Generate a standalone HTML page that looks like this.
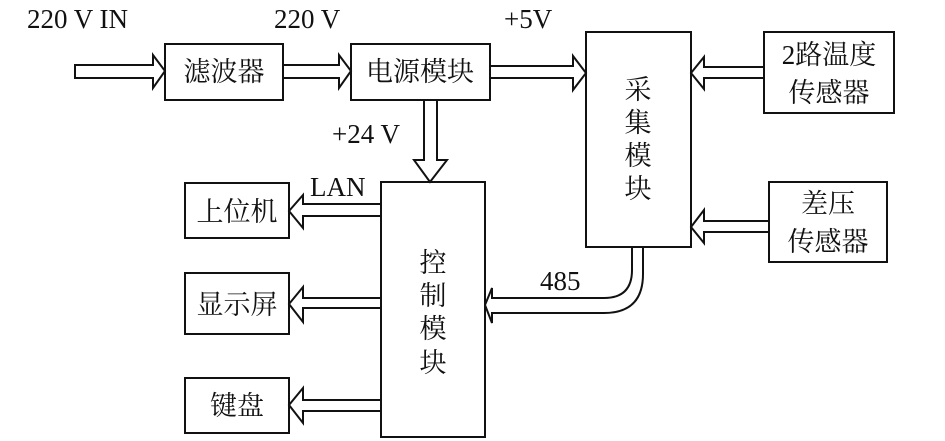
<!DOCTYPE html>
<html><head><meta charset="utf-8"><style>
body{margin:0;background:#fff}
svg{display:block}
text{font-family:"Liberation Serif","Noto Serif CJK SC",serif;fill:#111}
.c{font-family:"Liberation Serif","Noto Serif CJK SC","Noto Sans CJK SC",serif;font-size:27px}
</style></head><body>
<svg width="945" height="441" viewBox="0 0 945 441" xmlns="http://www.w3.org/2000/svg">
<g fill="none" stroke="#111" stroke-width="2">
<rect x="165" y="44" width="118" height="56"/>
<rect x="351" y="44" width="139" height="56"/>
<rect x="586" y="32" width="105" height="215"/>
<rect x="764" y="32" width="130" height="81"/>
<rect x="769" y="182" width="118" height="80"/>
<rect x="381" y="182" width="104" height="255"/>
<rect x="185" y="183" width="104" height="55"/>
<rect x="185" y="273" width="104" height="61"/>
<rect x="185" y="378" width="104" height="55"/>
<!-- right arrows -->
<path d="M75 65 H153 V55 L165 71 L153 88 V78 H75 Z"/>
<path d="M283 65 H339 V55 L351 71 L339 88 V78 H283"/>
<path d="M490 66 H573 V56 L586 73 L573 90 V78 H490"/>
<!-- left arrows into acq -->
<path d="M764 67 H704 V57 L691 73 L704 89 V78 H764"/>
<path d="M769 221 H704 V210 L691 227 L704 243 V232 H769"/>
<!-- down -->
<path d="M424 100 V160 H414 L430 182 L447 160 H437 V100"/>
<!-- left outputs -->
<path d="M381 204 H303 V195 L289 211 L303 228 V216 H381"/>
<path d="M381 298 H303 V287 L289 304 L303 322 V308 H381"/>
<path d="M381 400 H303 V388 L289 405 L303 423 V411 H381"/>
<!-- 485 -->
<path d="M632 247 V270 Q632 298 604 298 H492 V288 L485 305 L492 323 V313 H604 Q643 313 643 274 V247"/>
</g>
<text x="27" y="28" font-size="27">220 V IN</text>
<text x="274" y="28" font-size="27">220 V</text>
<text x="504" y="28" font-size="27">+5V</text>
<text x="332" y="143" font-size="27">+24 V</text>
<text x="310" y="196" font-size="27">LAN</text>
<text x="540" y="290" font-size="27">485</text>
<text class="c" x="224" y="81" text-anchor="middle">滤波器</text>
<text class="c" x="420" y="81" text-anchor="middle">电源模块</text>
<text class="c" x="829" y="64" text-anchor="middle">2路温度</text>
<text class="c" x="829" y="102" text-anchor="middle">传感器</text>
<text class="c" x="828" y="213" text-anchor="middle">差压</text>
<text class="c" x="828" y="251" text-anchor="middle">传感器</text>
<text class="c" x="237" y="221" text-anchor="middle">上位机</text>
<text class="c" x="237" y="314" text-anchor="middle">显示屏</text>
<text class="c" x="237" y="415" text-anchor="middle">键盘</text>
<g class="c" text-anchor="middle">
<text class="c" x="638" y="99">采</text>
<text class="c" x="638" y="132">集</text>
<text class="c" x="638" y="165">模</text>
<text class="c" x="638" y="198">块</text>
<text class="c" x="433" y="272">控</text>
<text class="c" x="433" y="305">制</text>
<text class="c" x="433" y="338">模</text>
<text class="c" x="433" y="372">块</text>
</g>
</svg>
</body></html>
